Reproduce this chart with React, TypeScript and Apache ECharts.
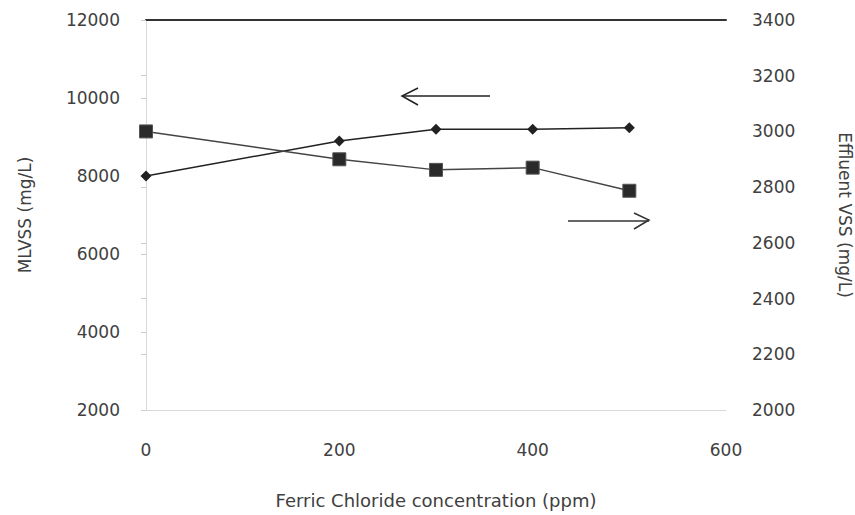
import React, { useEffect, useRef } from "react";
import * as echarts from "echarts";

const concentrations = [0, 200, 300, 400, 500];
const mlvss = [8000, 8900, 9200, 9200, 9240];
const effluentVss = [3000, 2900, 2862, 2870, 2787];
const xTitle = "Ferric Chloride concentration (ppm)";
const leftTitle = "MLVSS (mg/L)";
const rightTitle = "Effluent VSS (mg/L)";

const FONT = "DejaVu Sans";

export default function App() {
  const ref = useRef<HTMLDivElement>(null);
  useEffect(() => {
    if (!ref.current) return;
    const chart = echarts.init(ref.current, null, { renderer: "svg" });
    const labelStyle = { color: "#404040", fontSize: 17, fontFamily: FONT };
    const plain = (v: number) => String(v);
    chart.setOption({
      animation: false,
      backgroundColor: "#fff",
      grid: { left: 146, right: 129, top: 20, bottom: 105, outerBoundsMode: "none", containLabel: false },
      xAxis: [
        {
          type: "value",
          min: 0,
          max: 600,
          interval: 200,
          name: xTitle,
          nameLocation: "middle",
          nameGap: 81,
          nameTextStyle: { ...labelStyle, fontSize: 18 },
          axisLine: { lineStyle: { color: "#d9d9d9" } },
          axisTick: { show: false },
          axisLabel: { ...labelStyle, margin: 31, formatter: plain },
          splitLine: { show: false },
        },
        {
          type: "value",
          position: "top",
          min: 0,
          max: 600,
          axisLine: { show: true, lineStyle: { color: "#333", width: 2 } },
          axisTick: { show: false },
          axisLabel: { show: false },
          splitLine: { show: false },
        },
      ],
      yAxis: [
        {
          type: "value",
          min: 2000,
          max: 12000,
          interval: 2000,
          name: leftTitle,
          nameLocation: "middle",
          nameGap: 113,
          nameRotate: 90,
          nameTextStyle: labelStyle,
          axisLine: { show: true, lineStyle: { color: "#d9d9d9" } },
          axisTick: { show: true, length: 5, lineStyle: { color: "#cccccc" } },
          axisLabel: { ...labelStyle, margin: 26, formatter: plain },
          splitLine: { show: false },
        },
        {
          type: "value",
          position: "right",
          min: 2000,
          max: 3400,
          interval: 200,
          name: rightTitle,
          nameLocation: "middle",
          nameGap: 110,
          nameRotate: -90,
          nameTextStyle: labelStyle,
          axisLine: { show: true, lineStyle: { color: "#d9d9d9" } },
          axisTick: { show: true, inside: true, length: 5, lineStyle: { color: "#cccccc" } },
          axisLabel: { ...labelStyle, margin: 26, formatter: plain },
          splitLine: { show: false },
        },
      ],
      series: [
        {
          name: leftTitle,
          type: "line",
          xAxisIndex: 0,
          yAxisIndex: 0,
          data: concentrations.map((c, i) => [c, mlvss[i]]),
          symbol: "diamond",
          symbolSize: 11,
          itemStyle: { color: "#222" },
          lineStyle: { color: "#222", width: 1.5 },
        },
        {
          name: rightTitle,
          type: "line",
          xAxisIndex: 0,
          yAxisIndex: 1,
          data: concentrations.map((c, i) => [c, effluentVss[i]]),
          symbol: "rect",
          symbolSize: 13,
          itemStyle: { color: "#2a2a2a", borderColor: "#555", borderWidth: 1 },
          lineStyle: { color: "#444", width: 1.5 },
        },
      ],
      graphic: [
        {
          type: "line",
          shape: { x1: 402, y1: 96, x2: 490, y2: 96 },
          style: { stroke: "#222", lineWidth: 1.5 },
        },
        {
          type: "polyline",
          shape: { points: [[418, 88], [402, 96], [418, 105]] },
          style: { stroke: "#222", lineWidth: 1.5, fill: null },
        },
        {
          type: "line",
          shape: { x1: 568, y1: 221, x2: 649, y2: 221 },
          style: { stroke: "#333", lineWidth: 1.5 },
        },
        {
          type: "polyline",
          shape: { points: [[634, 213], [649, 220], [634, 229]] },
          style: { stroke: "#333", lineWidth: 1.5, fill: null },
        },
      ],
    });
    return () => chart.dispose();
  }, []);
  return <div ref={ref} style={{ width: 855, height: 515, position: "absolute", left: 0, top: 0 }} />;
}
